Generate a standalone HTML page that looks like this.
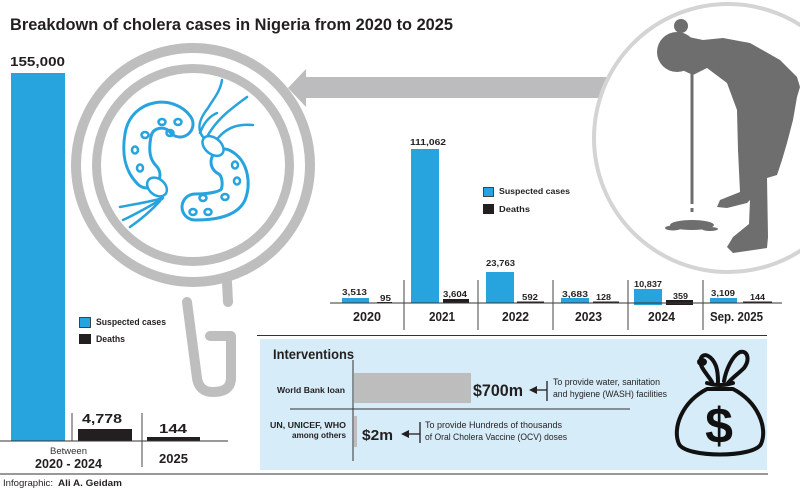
<!DOCTYPE html>
<html>
<head>
<meta charset="utf-8">
<style>
html,body{margin:0;padding:0;background:#fff;}
svg{display:block;}
text{font-family:"Liberation Sans",Arial,sans-serif;fill:#231f20;}
.b{font-weight:bold;}
</style>
</head>
<body>
<svg width="800" height="492" viewBox="0 0 800 492" xmlns="http://www.w3.org/2000/svg">
<rect x="0" y="0" width="800" height="492" fill="#fff"/>

<!-- Title -->
<text class="b" x="10" y="30" font-size="16.5" textLength="443" lengthAdjust="spacingAndGlyphs">Breakdown of cholera cases in Nigeria from 2020 to 2025</text>

<!-- Arrow -->
<polygon points="288,88 306,69 306,77 608,77 608,98 306,98 306,107" fill="#bcbcbe"/>

<!-- Right circle with figure -->
<circle cx="728" cy="138" r="134" fill="#fff" stroke="#d4d4d4" stroke-width="4"/>
<g fill="#6e6e6e">
  <circle cx="681" cy="26" r="7"/>
  <circle cx="677" cy="52" r="20"/>
  <polygon points="684,36 703,40 723,38 750,43 780,60 797,77 800,87 797,97 793,120 787,143 782,160 777,175 767,178 768,237 767,248 733,253 727,247 733,237 749,224 750,200 747,203 727,208 717,207 720,200 740,192 738,150 737,110 727,83 707,68 693,75 682,70"/>
  <rect x="690.5" y="72" width="3" height="132"/>
  <rect x="690.5" y="208" width="3" height="4"/>
  <ellipse cx="692" cy="225" rx="22" ry="5"/>
  <ellipse cx="673" cy="228" rx="8" ry="2.5"/>
  <ellipse cx="710" cy="229" rx="8" ry="2"/>
</g>

<!-- Magnifier -->
<g fill="none" stroke="#bebebe">
  <circle cx="193" cy="165" r="117" stroke-width="10"/>
  <circle cx="193" cy="165" r="96.5" stroke-width="9"/>
  <path d="M227,282 L228,302" stroke-width="10" stroke-linecap="round"/>
  <path d="M187,302 L197,378 Q199,392 213,392 Q231,392 231,378 L231,336 L210,336" stroke-width="10" stroke-linecap="round" stroke-linejoin="round"/>
</g>

<!-- Bacteria -->
<g fill="none" stroke-linecap="round">
  <path d="M180,124 C170,110 142,112 138,135 C135,152 137,165 147,175" stroke="#27a3de" stroke-width="29"/>
  <path d="M180,124 C170,110 142,112 138,135 C135,152 137,165 147,175" stroke="#fff" stroke-width="23"/>
  <path d="M224,162 C236,168 237,185 233,195 C228,205 210,207 195,207" stroke="#27a3de" stroke-width="29"/>
  <path d="M224,162 C236,168 237,185 233,195 C228,205 210,207 195,207" stroke="#fff" stroke-width="23"/>
</g>
<g fill="#fff" stroke="#27a3de" stroke-width="2.5">
  <ellipse cx="157" cy="187" rx="11" ry="8" transform="rotate(40 157 187)"/>
  <ellipse cx="213" cy="146" rx="12" ry="8" transform="rotate(40 213 146)"/>
</g>
<g fill="none" stroke="#27a3de" stroke-width="2.5" stroke-linecap="round">
  <path d="M163,198 C150,202 135,204 120,207"/>
  <path d="M162,199 C150,206 136,214 123,220"/>
  <path d="M160,201 C150,212 140,220 130,227"/>
  <path d="M203,137 C196,128 200,118 208,108 C214,98 220,92 222,80"/>
  <path d="M208,135 C218,118 232,108 247,97"/>
  <path d="M218,138 C228,126 240,124 253,125"/>
  <path d="M200,133 C204,122 210,116 217,113"/>
  <ellipse cx="162" cy="122" rx="3.5" ry="3"/>
  <ellipse cx="178" cy="122" rx="3.5" ry="3"/>
  <ellipse cx="170" cy="133" rx="3.5" ry="3"/>
  <ellipse cx="145" cy="135" rx="3.5" ry="3"/>
  <ellipse cx="135" cy="150" rx="3" ry="3.5"/>
  <ellipse cx="140" cy="168" rx="3" ry="3.5"/>
  <ellipse cx="235" cy="165" rx="3" ry="3.5"/>
  <ellipse cx="237" cy="181" rx="3" ry="3.5"/>
  <ellipse cx="225" cy="197" rx="3.5" ry="3"/>
  <ellipse cx="203" cy="198" rx="3.5" ry="3"/>
  <ellipse cx="193" cy="212" rx="3.5" ry="3"/>
  <ellipse cx="208" cy="212" rx="3.5" ry="3"/>
</g>

<!-- Left chart -->
<text class="b" x="10" y="66" font-size="13" textLength="55" lengthAdjust="spacingAndGlyphs">155,000</text>
<rect x="11" y="73" width="54" height="368" fill="#27a3de"/>
<rect x="79.5" y="317.5" width="11" height="10" fill="#27a3de" stroke="#222" stroke-width="0.8"/>
<rect x="79" y="334" width="12" height="10" fill="#231f20"/>
<text class="b" x="96" y="325" font-size="9" textLength="70" lengthAdjust="spacingAndGlyphs">Suspected cases</text>
<text class="b" x="96" y="342" font-size="9" textLength="29" lengthAdjust="spacingAndGlyphs">Deaths</text>

<rect x="78" y="429" width="54" height="12" fill="#231f20"/>
<rect x="147" y="437" width="53" height="4" fill="#231f20"/>
<text class="b" x="82" y="423" font-size="12.5" textLength="40" lengthAdjust="spacingAndGlyphs">4,778</text>
<text class="b" x="159" y="433" font-size="12.5" textLength="28" lengthAdjust="spacingAndGlyphs">144</text>
<line x1="0" y1="441" x2="228" y2="441" stroke="#333" stroke-width="1"/>
<line x1="72" y1="413" x2="72" y2="441" stroke="#444" stroke-width="1"/>
<line x1="142" y1="413" x2="142" y2="467" stroke="#444" stroke-width="1"/>
<text x="50" y="454" font-size="9" textLength="37" lengthAdjust="spacingAndGlyphs" style="fill:#333">Between</text>
<text class="b" x="35" y="468" font-size="12.5" textLength="67" lengthAdjust="spacingAndGlyphs">2020 - 2024</text>
<text class="b" x="159" y="463" font-size="12.5" textLength="29" lengthAdjust="spacingAndGlyphs">2025</text>

<!-- Middle chart -->
<rect x="483.5" y="187.5" width="10" height="9" fill="#27a3de" stroke="#222" stroke-width="0.8"/>
<rect x="483" y="204" width="11" height="10" fill="#231f20"/>
<text class="b" x="499" y="194" font-size="8.5" textLength="71" lengthAdjust="spacingAndGlyphs">Suspected cases</text>
<text class="b" x="499" y="212" font-size="8.5" textLength="31" lengthAdjust="spacingAndGlyphs">Deaths</text>

<g fill="#27a3de">
  <rect x="342" y="298" width="27" height="5"/>
  <rect x="411" y="149" width="28" height="154"/>
  <rect x="486" y="272" width="28" height="31"/>
  <rect x="561" y="298" width="28" height="5"/>
  <rect x="634" y="289" width="28" height="16"/>
  <rect x="710" y="298" width="27" height="5"/>
</g>
<g fill="#231f20">
  <rect x="377" y="302" width="15" height="1"/>
  <rect x="443" y="299" width="26" height="4"/>
  <rect x="517" y="301.5" width="27" height="2"/>
  <rect x="593" y="301.5" width="26" height="2"/>
  <rect x="666" y="300" width="27" height="5"/>
  <rect x="743" y="301.5" width="29" height="2"/>
</g>
<line x1="330" y1="303" x2="782" y2="303" stroke="#333" stroke-width="1"/>
<g stroke="#444" stroke-width="1">
  <line x1="404" y1="280" x2="404" y2="330"/>
  <line x1="478" y1="280" x2="478" y2="330"/>
  <line x1="553" y1="280" x2="553" y2="330"/>
  <line x1="628" y1="280" x2="628" y2="330"/>
  <line x1="703" y1="280" x2="703" y2="330"/>
</g>
<g font-size="8.5">
  <text class="b" x="410" y="145" textLength="36" lengthAdjust="spacingAndGlyphs">111,062</text>
  <text class="b" x="342" y="295" textLength="25" lengthAdjust="spacingAndGlyphs">3,513</text>
  <text class="b" x="380" y="301" textLength="11" lengthAdjust="spacingAndGlyphs">95</text>
  <text class="b" x="443" y="297" textLength="24" lengthAdjust="spacingAndGlyphs">3,604</text>
  <text class="b" x="486" y="266" textLength="29" lengthAdjust="spacingAndGlyphs">23,763</text>
  <text class="b" x="522" y="300" textLength="16" lengthAdjust="spacingAndGlyphs">592</text>
  <text class="b" x="562" y="297" textLength="26" lengthAdjust="spacingAndGlyphs">3,683</text>
  <text class="b" x="596" y="300" textLength="15" lengthAdjust="spacingAndGlyphs">128</text>
  <text class="b" x="634" y="287" textLength="28" lengthAdjust="spacingAndGlyphs">10,837</text>
  <text class="b" x="673" y="299" textLength="15" lengthAdjust="spacingAndGlyphs">359</text>
  <text class="b" x="711" y="296" textLength="24" lengthAdjust="spacingAndGlyphs">3,109</text>
  <text class="b" x="750" y="300" textLength="15" lengthAdjust="spacingAndGlyphs">144</text>
</g>
<g font-size="12.5">
  <text class="b" x="353" y="321" textLength="28" lengthAdjust="spacingAndGlyphs">2020</text>
  <text class="b" x="429" y="321" textLength="26" lengthAdjust="spacingAndGlyphs">2021</text>
  <text class="b" x="502" y="321" textLength="27" lengthAdjust="spacingAndGlyphs">2022</text>
  <text class="b" x="575" y="321" textLength="27" lengthAdjust="spacingAndGlyphs">2023</text>
  <text class="b" x="648" y="321" textLength="27" lengthAdjust="spacingAndGlyphs">2024</text>
  <text class="b" x="710" y="321" textLength="53" lengthAdjust="spacingAndGlyphs">Sep. 2025</text>
</g>

<!-- Interventions -->
<line x1="257" y1="335.5" x2="767" y2="335.5" stroke="#333" stroke-width="1"/>
<rect x="260" y="339" width="507" height="131" fill="#d6ecf8"/>
<line x1="0" y1="474" x2="768" y2="474" stroke="#333" stroke-width="1"/>
<text class="b" x="273" y="359" font-size="13.5" textLength="81" lengthAdjust="spacingAndGlyphs">Interventions</text>
<line x1="353" y1="360" x2="353" y2="461" stroke="#333" stroke-width="1"/>
<rect x="354" y="373" width="117" height="30" fill="#bdbdbd"/>
<rect x="354" y="416" width="3" height="31" fill="#bdbdbd"/>
<line x1="290" y1="409" x2="630" y2="409" stroke="#333" stroke-width="1"/>
<text class="b" x="345" y="393" font-size="8" text-anchor="end" textLength="68" lengthAdjust="spacingAndGlyphs">World Bank loan</text>
<text class="b" x="346" y="428" font-size="8" text-anchor="end" textLength="76" lengthAdjust="spacingAndGlyphs">UN, UNICEF, WHO</text>
<text class="b" x="346" y="438" font-size="8" text-anchor="end" textLength="54" lengthAdjust="spacingAndGlyphs">among others</text>
<text class="b" x="473" y="396" font-size="17" textLength="50" lengthAdjust="spacingAndGlyphs">$700m</text>
<text class="b" x="362" y="440" font-size="15" textLength="31" lengthAdjust="spacingAndGlyphs">$2m</text>
<g stroke="#231f20" stroke-width="1.3" fill="none">
  <line x1="534" y1="390" x2="547" y2="390"/>
  <line x1="547" y1="381" x2="547" y2="401"/>
  <line x1="406" y1="434" x2="420" y2="434"/>
  <line x1="420" y1="422" x2="420" y2="443"/>
</g>
<polygon points="529,390 537,386 537,394" fill="#231f20"/>
<polygon points="401,434 409,430 409,438" fill="#231f20"/>
<g font-size="9" style="fill:#231f20">
  <text x="553" y="385" textLength="107" lengthAdjust="spacingAndGlyphs">To provide water, sanitation</text>
  <text x="553" y="397" textLength="114" lengthAdjust="spacingAndGlyphs">and hygiene (WASH) facilities</text>
  <text x="425" y="428" textLength="137" lengthAdjust="spacingAndGlyphs">To provide Hundreds of thousands</text>
  <text x="425" y="440" textLength="142" lengthAdjust="spacingAndGlyphs">of Oral Cholera Vaccine (OCV) doses</text>
</g>

<!-- Money bag -->
<g fill="none" stroke="#111" stroke-width="4" stroke-linejoin="round" stroke-linecap="round">
  <path d="M707,389 C682,402 672,428 679,444 C686,458 754,458 761,444 C768,428 758,402 733,389 Z"/>
  <path d="M707,383 Q720,387 733,383"/>
  <path d="M712,382 C706,372 698,366 701,358 C704,352 712,356 716,366 C718,372 718,378 718,382"/>
  <path d="M724,381 C726,370 732,356 740,352 C748,350 750,360 744,368 C738,374 732,378 728,383"/>
</g>
<ellipse cx="702" cy="362" rx="5" ry="4" fill="#111"/>
<text class="b" x="719" y="443" font-size="50" text-anchor="middle" style="fill:#111">$</text>

<!-- Credit -->
<text x="3" y="486" font-size="9.5"><tspan textLength="50" lengthAdjust="spacingAndGlyphs">Infographic:</tspan><tspan class="b" x="58" textLength="64" lengthAdjust="spacingAndGlyphs">Ali A. Geidam</tspan></text>
</svg>
</body>
</html>
